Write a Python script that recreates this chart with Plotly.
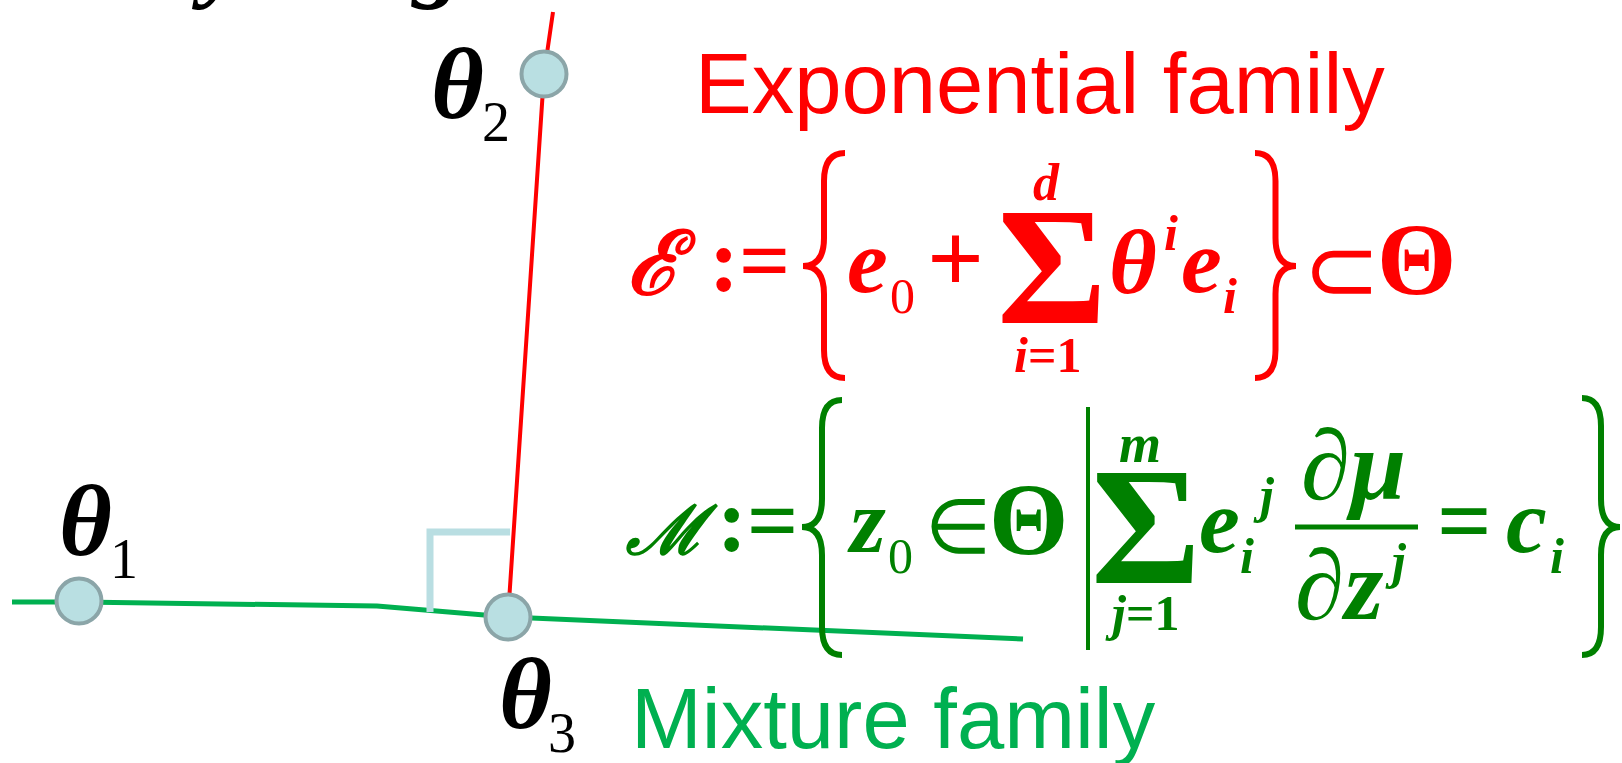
import plotly.graph_objects as go

# ---------------- data ----------------
point_names = ["θ1", "θ2", "θ3"]
point_x = [79, 544, 508]
point_y = [601, 74, 617]

exp_family_x = [553, 544, 508]
exp_family_y = [12, 74, 617]

mix_family_x = [12, 79, 377, 508, 1023]
mix_family_y = [602, 602, 606, 617, 639]

right_angle_x = [430, 430, 510]
right_angle_y = [612, 532, 532]

RED = "#ff0000"
GREEN_LINE = "#00b050"
GREEN_TXT = "#008000"
BLACK = "#000000"
SERIF = "Liberation Serif"
SANS = "Liberation Sans"
SCRIPT = "DejaVu Serif"

W, H = 1622, 763

fig = go.Figure()

fig.add_trace(go.Scatter(x=mix_family_x, y=mix_family_y, mode="lines",
                         line=dict(color=GREEN_LINE, width=5), hoverinfo="skip"))
fig.add_trace(go.Scatter(x=exp_family_x, y=exp_family_y, mode="lines",
                         line=dict(color=RED, width=4), hoverinfo="skip"))
fig.add_trace(go.Scatter(x=right_angle_x, y=right_angle_y, mode="lines",
                         line=dict(color="#b9dee2", width=7), hoverinfo="skip"))
fig.add_trace(go.Scatter(x=point_x, y=point_y, mode="markers", text=point_names,
                         marker=dict(size=45, color="#b9dfe2",
                                     line=dict(color="#8ba5a8", width=4)),
                         hoverinfo="text"))

annotations = []


def txt(s, x, base, size, color, fam=SERIF, bold=False, italic=False, paper=False):
    off = 0.3465 * size if fam == SANS else 0.3375 * size
    if italic:
        s = "<i>" + s + "</i>"
    if bold:
        s = "<b>" + s + "</b>"
    yc = base - off
    ann = dict(x=x, y=yc, xref="x", yref="y", xanchor="left", yanchor="middle",
               text=s, showarrow=False, borderpad=0,
               font=dict(family=fam, size=size, color=color))
    if paper:
        ann["yref"] = "paper"
        ann["y"] = 1 - yc / H
    annotations.append(ann)


# cut-off text at the top edge
txt("y", 190, -11, 100, BLACK, bold=True, italic=True, paper=True)
txt("g", 410, -11, 100, BLACK, bold=True, italic=True, paper=True)

# point labels
txt("θ", 430, 118, 102, BLACK, bold=True, italic=True)
txt("2", 481, 141, 56, BLACK)
txt("θ", 58, 555, 102, BLACK, bold=True, italic=True)
txt("1", 109, 578, 56, BLACK)
txt("θ", 498, 728, 102, BLACK, bold=True, italic=True)
txt("3", 547, 752, 56, BLACK)

# family names
txt("Exponential family", 694, 113, 85, RED, fam=SANS)
txt("Mixture family", 630, 748, 85, GREEN_LINE, fam=SANS)

# exponential family formula
txt("ℰ", 626, 293, 88, RED, fam=SCRIPT, bold=True, italic=True)
txt(":=", 708, 291, 90, RED, bold=True)
txt("e", 846, 292, 92, RED, bold=True, italic=True)
txt("0", 889, 313, 50, RED)
txt("+", 926, 292, 100, RED, bold=True)
txt("Σ", 996, 323, 168, RED, bold=True)
txt("d", 1032, 200, 52, RED, bold=True, italic=True)
txt("<i>i</i>=1", 1013, 372, 50, RED, bold=True)
txt("θ", 1108, 293, 92, RED, bold=True, italic=True)
txt("i", 1163, 250, 50, RED, bold=True, italic=True)
txt("e", 1180, 292, 92, RED, bold=True, italic=True)
txt("i", 1222, 313, 50, RED, bold=True, italic=True)
txt("⊂", 1302, 301, 92, RED)
txt("Θ", 1376, 294, 102, RED, bold=True)

# mixture family formula
txt("ℳ", 624, 553, 68, GREEN_TXT, fam=SCRIPT, bold=True, italic=True)
txt(":=", 716, 551, 90, GREEN_TXT, bold=True)
txt("z", 846, 552, 92, GREEN_TXT, bold=True, italic=True)
txt("0", 887, 573, 50, GREEN_TXT)
txt("∈", 924, 553, 76, GREEN_TXT)
txt("Θ", 988, 554, 102, GREEN_TXT, bold=True)
txt("Σ", 1090, 583, 168, GREEN_TXT, bold=True)
txt("m", 1118, 462, 54, GREEN_TXT, bold=True, italic=True)
txt("<i>j</i>=1", 1104, 630, 50, GREEN_TXT, bold=True)
txt("e", 1198, 552, 92, GREEN_TXT, bold=True, italic=True)
txt("j", 1252, 512, 50, GREEN_TXT, bold=True, italic=True)
txt("i", 1239, 573, 50, GREEN_TXT, bold=True, italic=True)
txt("∂μ", 1300, 499, 100, GREEN_TXT, bold=True, italic=True)
txt("∂z", 1294, 619, 100, GREEN_TXT, bold=True, italic=True)
txt("j", 1384, 578, 50, GREEN_TXT, bold=True, italic=True)
txt("=", 1436, 553, 96, GREEN_TXT, bold=True)
txt("c", 1505, 552, 92, GREEN_TXT, bold=True, italic=True)
txt("i", 1549, 573, 50, GREEN_TXT, bold=True, italic=True)


def brace(tip_x, end_x, y0, y1, ym, r=28):
    mid = (tip_x + end_x) / 2
    return (f"M {end_x},{y0} Q {mid},{y0} {mid},{y0 + r} L {mid},{ym - r} "
            f"Q {mid},{ym} {tip_x},{ym} Q {mid},{ym} {mid},{ym + r} "
            f"L {mid},{y1 - r} Q {mid},{y1} {end_x},{y1}")


shapes = [
    dict(type="path", path=brace(803, 845, 153, 378, 266), line=dict(color=RED, width=6)),
    dict(type="path", path=brace(1296, 1255, 153, 378, 266), line=dict(color=RED, width=6)),
    dict(type="path", path=brace(802, 842, 400, 655, 527), line=dict(color=GREEN_TXT, width=6)),
    dict(type="path", path=brace(1620, 1582, 398, 655, 527), line=dict(color=GREEN_TXT, width=6)),
    dict(type="line", x0=1088, x1=1088, y0=407, y1=650, line=dict(color=GREEN_TXT, width=4)),
    dict(type="line", x0=1295, x1=1418, y0=527, y1=527, line=dict(color=GREEN_TXT, width=5)),
]

fig.update_layout(
    width=W, height=H, margin=dict(l=0, r=0, t=0, b=0),
    paper_bgcolor="white", plot_bgcolor="white", showlegend=False,
    xaxis=dict(range=[0, W], visible=False, fixedrange=True),
    yaxis=dict(range=[H, 0], visible=False, fixedrange=True),
    annotations=annotations, shapes=shapes,
)

fig.write_html("out.html", config={"displayModeBar": False},
               post_script="document.body.style.margin='0';")
